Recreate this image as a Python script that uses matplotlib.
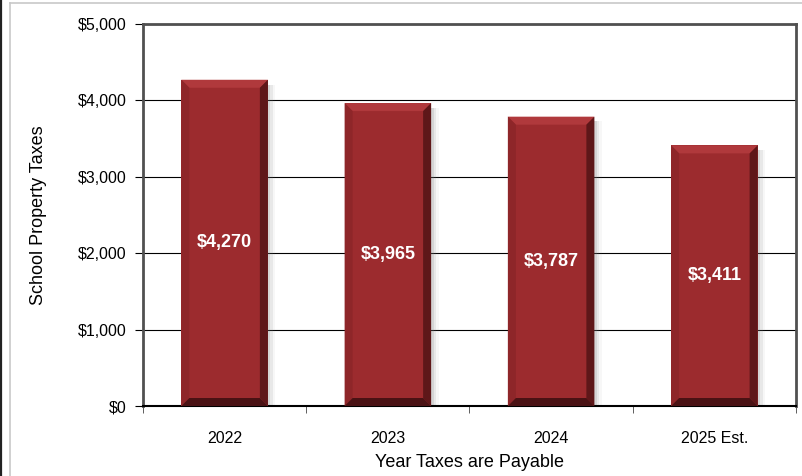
import matplotlib.pyplot as plt
from matplotlib.patches import Polygon, Rectangle
from matplotlib.ticker import FuncFormatter, MultipleLocator
import numpy as np

years = ["2022", "2023", "2024", "2025 Est."]
taxes = [4270, 3965, 3787, 3411]

plt.rcParams["font.family"] = ["Liberation Sans", "DejaVu Sans"]

fig = plt.figure(figsize=(8.02, 4.76), dpi=100)
ax = fig.add_axes([143 / 802, 1 - 406 / 476, (796 - 143) / 802, (406 - 24) / 476])

# outer frame lines like the source screenshot
fig.add_artist(plt.Line2D([1.2 / 802, 1.2 / 802], [0, 1], color="#222222", lw=1.6))
fig.add_artist(plt.Line2D([9.5 / 802, 9.5 / 802], [0, 1 - 3 / 476], color="#c8c8c8", lw=1.2))
fig.add_artist(plt.Line2D([9.5 / 802, 1], [1 - 3 / 476, 1 - 3 / 476], color="#c8c8c8", lw=1.2))

x = np.arange(len(years))
width = 0.53
face = "#9c2b2e"
light = "#b0393c"
dark = "#5e1719"
darker = "#4a1214"

ax.set_xlim(-0.5, len(years) - 0.5)
ax.set_ylim(0, 5000)

# bevel sizes in data units (~8 px)
bx = 8 / 163
by = 8 * 5000 / 382

for xi, val in zip(x, taxes):
    left, right = xi - width / 2, xi + width / 2
    # soft shadow on the right
    for k, a in enumerate([0.18, 0.12, 0.06]):
        ax.add_patch(Rectangle((right, 0), (k + 1) * 2.5 / 163, val - by * 0.6,
                               color="gray", alpha=a, lw=0, zorder=2))
    ax.bar(xi, val, width, color=face, zorder=3, linewidth=0)
    # bevels
    ax.add_patch(Polygon([(left, val), (right, val), (right - bx, val - by), (left + bx, val - by)],
                         color=light, lw=0, zorder=4))
    ax.add_patch(Polygon([(left, 0), (left, val), (left + bx, val - by), (left + bx, by)],
                         color="#8e2629", lw=0, zorder=4))
    ax.add_patch(Polygon([(right, 0), (right, val), (right - bx, val - by), (right - bx, by)],
                         color=dark, lw=0, zorder=4))
    ax.add_patch(Polygon([(left, 0), (right, 0), (right - bx, by), (left + bx, by)],
                         color=darker, lw=0, zorder=4))
    ax.text(xi, val / 2, f"${val:,}", ha="center", va="center", color="white",
            fontsize=13, fontweight="bold", zorder=5)

ax.yaxis.set_major_locator(MultipleLocator(1000))
ax.yaxis.set_major_formatter(FuncFormatter(lambda v, p: f"${v:,.0f}"))
ax.grid(axis="y", color="black", lw=0.8, zorder=1)
ax.set_axisbelow(True)

ax.set_xticks(x)
ax.set_xticklabels(years, fontsize=11.5)
ax.set_xticks(np.arange(-0.5, len(years)), minor=True)
ax.tick_params(axis="x", which="major", length=0, pad=18)
ax.tick_params(axis="x", which="minor", length=5, color="#444444")
ax.tick_params(axis="y", length=6, labelsize=11.5, pad=6)

for side in ["left", "top", "right"]:
    ax.spines[side].set_color("#505050")
    ax.spines[side].set_linewidth(2)
ax.spines["bottom"].set_color("black")
ax.spines["bottom"].set_linewidth(1.5)

ax.set_ylabel("School Property Taxes", fontsize=13, labelpad=22)
ax.set_xlabel("Year Taxes are Payable", fontsize=13, labelpad=6)

plt.savefig("out.png", dpi=100)
